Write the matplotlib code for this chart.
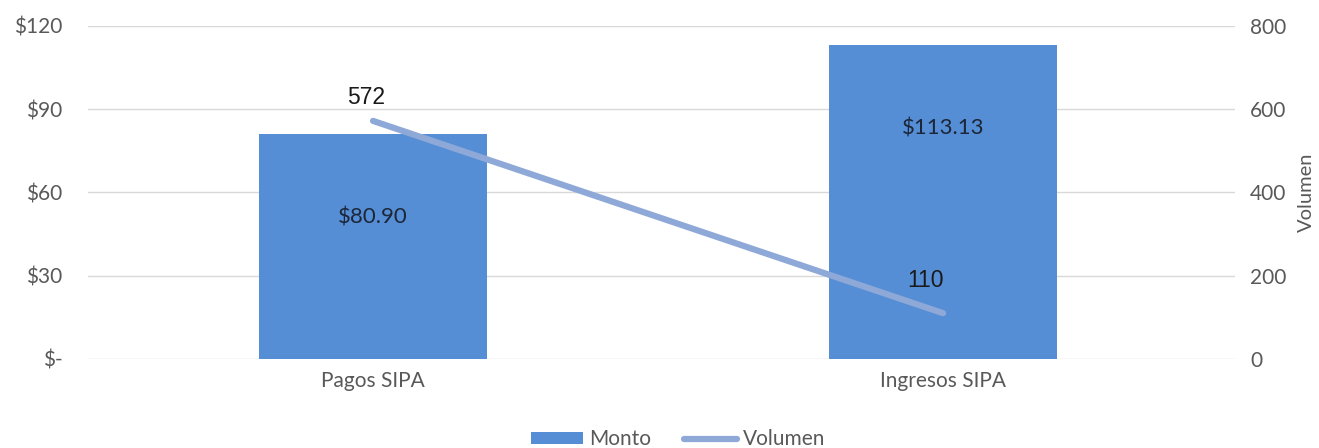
import matplotlib.pyplot as plt
from matplotlib.lines import Line2D
from matplotlib.patches import Patch
from matplotlib.ticker import FuncFormatter

categories = ["Pagos SIPA", "Ingresos SIPA"]
monto = [80.90, 113.13]
volumen = [572, 110]
monto_ticks = [0, 30, 60, 90, 120]
volumen_ticks = [0, 200, 400, 600, 800]

BAR_COLOR = "#558ED5"
LINE_COLOR = "#8EA9D8"
GRID_COLOR = "#D9D9D9"
TICK_COLOR = "#595959"

plt.rcParams["font.family"] = ["Lato", "DejaVu Sans"]

fig = plt.figure(figsize=(13.19, 4.48), dpi=100)
ax = fig.add_axes([0.0667, 0.1987, 0.8696, 0.7433])
ax2 = ax.twinx()

x = list(range(len(categories)))
ax.bar(x, monto, width=0.4, color=BAR_COLOR, zorder=2)
ax.set_xlim(-0.5, 1.512)
ax.set_ylim(0, 120)
ax.set_yticks(monto_ticks)
ax.yaxis.set_major_formatter(FuncFormatter(lambda v, p: "$-" if v == 0 else f"${v:.0f}"))
ax.set_xticks(x)
ax.set_xticklabels(categories)
ax.grid(axis="y", color=GRID_COLOR, linewidth=1, zorder=0)
ax.tick_params(axis="both", length=0, labelsize=15, labelcolor=TICK_COLOR, pad=9)
ax.tick_params(axis="y", pad=18.5)
for s in ax.spines.values():
    s.set_visible(False)
for s in ax2.spines.values():
    s.set_visible(False)

# bar labels sit a fixed distance below the bar top
for xi, v in zip(x, monto):
    ax.annotate(f"${v:.2f}", (xi, v), xytext=(0, -60), textcoords="offset points",
                ha="center", va="center", fontsize=16, color="#1c2638", zorder=4)

ax2.plot(x, volumen, color=LINE_COLOR, linewidth=4.5, solid_capstyle="round", zorder=3)
ax2.set_ylim(0, 800)
ax2.set_yticks(volumen_ticks)
ax2.tick_params(axis="y", length=0, labelsize=15, labelcolor=TICK_COLOR, pad=11)
ax2.set_ylabel("Volumen", fontsize=14.5, color=TICK_COLOR, labelpad=8)

label_offsets = [(-5, 16.5), (-13, 23.5)]
for xi, v, off in zip(x, volumen, label_offsets):
    ax2.annotate(str(v), (xi, v), xytext=off, textcoords="offset points",
                 ha="center", va="center", fontsize=16.5, color="#1a1a1a",
                 family=["Liberation Sans", "DejaVu Sans"])

handles = [Patch(facecolor=BAR_COLOR, label="Monto"),
           Line2D([0], [0], color=LINE_COLOR, linewidth=4.5, solid_capstyle="round", label="Volumen")]
fig.legend(handles=handles, loc="lower center", bbox_to_anchor=(0.514, -0.045), ncol=2,
           frameon=False, fontsize=15, handlelength=2.5, handleheight=0.55,
           handletextpad=0.3, columnspacing=1.6, labelcolor=TICK_COLOR)

fig.savefig("out.png", dpi=100)
